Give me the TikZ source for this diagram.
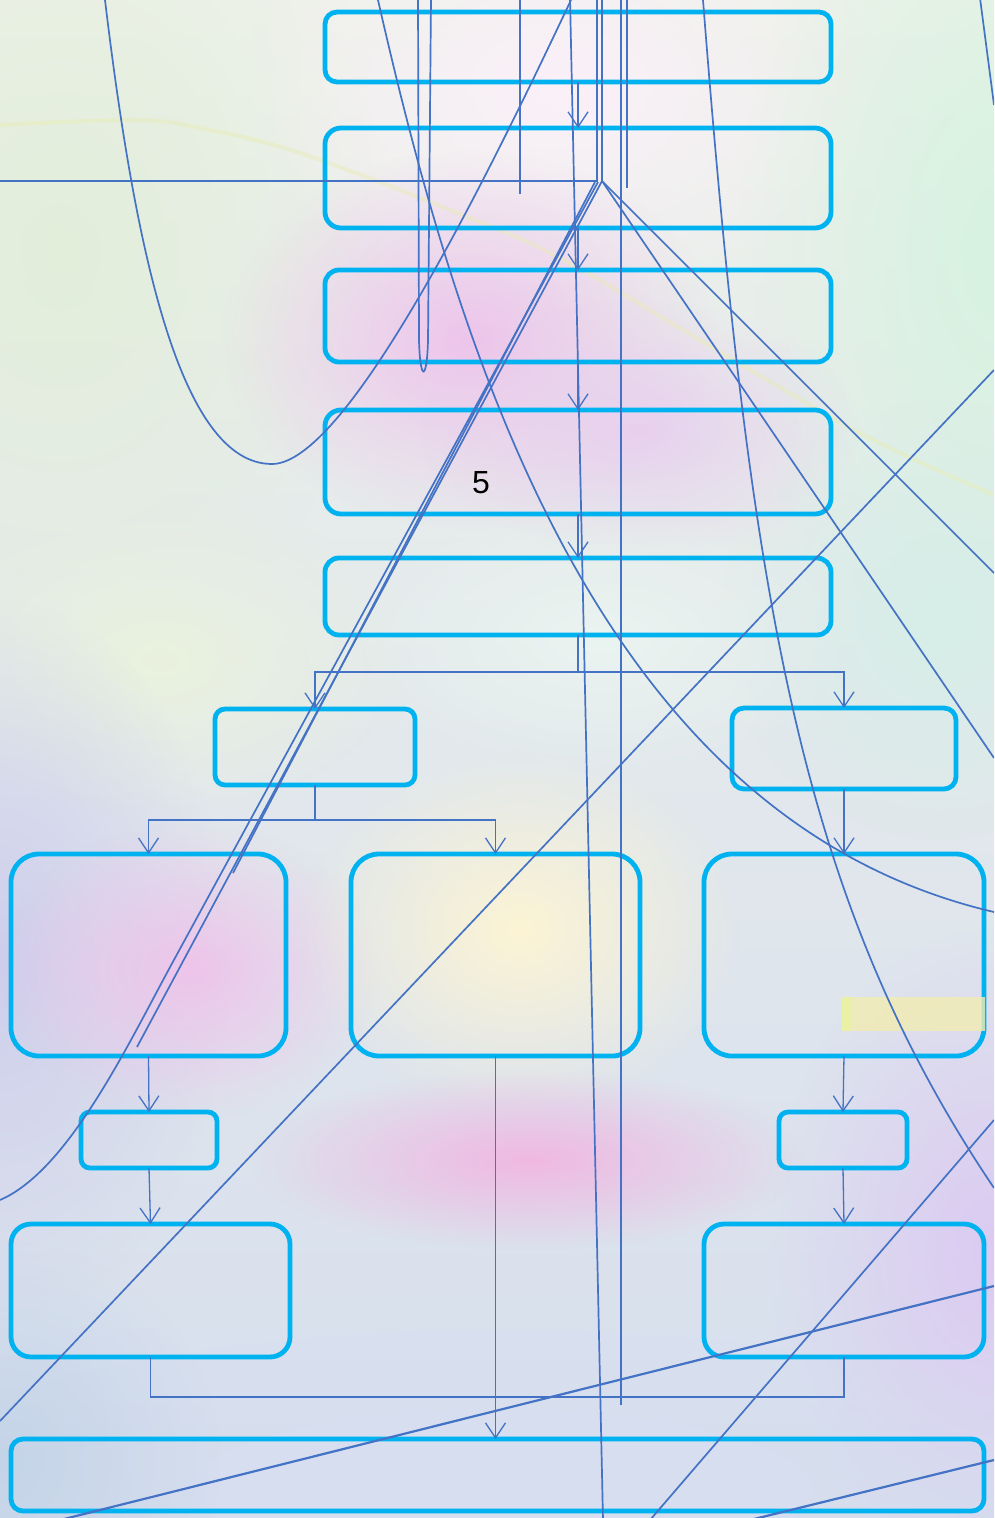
\documentclass[tikz,border=0pt]{standalone}
\usepackage{fontspec}
\newfontfamily\lsans{Liberation Sans}
\usetikzlibrary{arrows.meta,fadings}
\definecolor{boxc}{RGB}{0,178,240}
\definecolor{linec}{RGB}{68,114,196}
\definecolor{bgtop}{RGB}{238,242,234}
\definecolor{bgmid}{RGB}{236,240,240}
\definecolor{bgbot}{RGB}{214,222,238}
\definecolor{g1}{RGB}{226,238,218}
\definecolor{g2}{RGB}{251,240,249}
\definecolor{g3}{RGB}{214,243,224}
\definecolor{g4}{RGB}{238,196,236}
\definecolor{g5}{RGB}{232,208,238}
\definecolor{g6}{RGB}{234,242,222}
\definecolor{g7}{RGB}{234,244,240}
\definecolor{g8}{RGB}{206,206,236}
\definecolor{g9}{RGB}{238,196,234}
\definecolor{g10}{RGB}{252,244,212}
\definecolor{g11}{RGB}{240,184,226}
\definecolor{g12}{RGB}{214,238,232}
\definecolor{g13}{RGB}{220,202,242}
\definecolor{g14}{RGB}{214,222,240}
\definecolor{g15}{RGB}{196,212,232}
\definecolor{wave}{RGB}{232,236,180}
\definecolor{hl}{RGB}{242,236,178}
\definecolor{hl2}{RGB}{232,244,150}
\tikzfading[name=softblob, inner color=transparent!0, outer color=transparent!100]
\tikzset{
  box/.style={draw=boxc, line width=4.8pt, inner sep=0pt, outer sep=0pt},
  line/.style={draw=linec, line width=1.3pt},
  conn/.style={line, -{Straight Barb[length=15pt,width=20pt,line width=1.3pt]}},
  stray/.style={draw=linec, line width=1.7pt},
  blob/.style={fill=#1, path fading=softblob}
}
\newcommand{\mybox}[6]{%
  \node[box, rounded corners=#6pt, minimum width={(#4-#2)*1pt}, minimum height={(#5-#3)*1pt}] (#1) at ({(#2+#4)/2},{(#3+#5)/2}) {};}
\begin{document}
\begin{tikzpicture}[x=1pt,y=-1pt]
\useasboundingbox (0,0) rectangle (994,1518);
\begin{scope}
\clip (0,0) rectangle (994,1518);
% background
\shade[top color=bgtop, middle color=bgmid, bottom color=bgbot] (0,0) rectangle (994,1518);
\fill[blob=g1] (60,250) ellipse (320 and 420);
\fill[blob=g2] (560,90) ellipse (320 and 220);
\fill[blob=g3] (1000,250) ellipse (260 and 460);
\fill[blob=g4] (470,340) ellipse (250 and 190);
\fill[blob=g5] (640,430) ellipse (220 and 130);
\fill[blob=g6] (160,660) ellipse (260 and 160);
\fill[blob=g7] (600,640) ellipse (260 and 140);
\fill[blob=g8] (0,960) ellipse (230 and 360);
\fill[blob=g9] (190,970) ellipse (190 and 150);
\fill[blob=g10] (520,930) ellipse (220 and 180);
\fill[blob=g11] (530,1160) ellipse (280 and 90);
\fill[blob=g12] (940,620) ellipse (220 and 220);
\fill[blob=g13] (990,1250) ellipse (220 and 320);
\fill[blob=g14] (500,1490) ellipse (620 and 160);
\fill[blob=g15] (0,1460) ellipse (220 and 220);
\draw[line width=4pt, color=wave, opacity=0.45] plot[smooth, tension=0.6] coordinates {(0,125) (133,120) (200,128) (300,153) (450,210) (560,258) (700,340) (860,433) (994,495)};
\end{scope}
% boxes
\mybox{b1}{325}{12}{831}{82}{12}
\mybox{b2}{325}{128}{831}{228}{16}
\mybox{b3}{325}{270}{831}{362}{14}
\mybox{b4}{325}{410}{831}{514}{16}
\mybox{b5}{325}{558}{831}{635}{14}
\mybox{b6}{215}{709}{415}{785}{10}
\mybox{b7}{732}{708}{956}{789}{12}
\mybox{b8}{11}{854}{286}{1056}{28}
\mybox{b9}{351}{854}{640}{1056}{28}
\mybox{b10}{704}{854}{984}{1056}{28}
\mybox{b11}{81}{1112}{217}{1168}{9}
\mybox{b12}{779}{1112}{907}{1168}{9}
\mybox{b13}{11}{1224}{290}{1357}{20}
\mybox{b14}{704}{1224}{984}{1357}{20}
\mybox{b15}{11}{1439}{984}{1511}{12}
% highlight
\fill[color=hl, opacity=0.8] (842,997) rectangle (985,1031);
\fill[color=hl2, opacity=0.6] (842,997) rectangle (852,1031);
% text
\node[font=\lsans\fontsize{32}{36}\selectfont, inner sep=0pt] (t5) at (481,483) {5};
% connectors
\draw[conn] (b1.south) -- (b2.north);
\draw[conn] (b2.south) -- (b3.north);
\draw[conn] (b3.south) -- (b4.north);
\draw[conn] (b4.south) -- (b5.north);
\coordinate (j1) at (578,672);
\draw[line] (b5.south) -- (j1);
\draw[conn] (j1) -| (b6.north);
\draw[conn] (j1) -| (b7.north);
\coordinate (j2) at (315,820);
\draw[line] (b6.south) -- (j2);
\draw[conn] (j2) -| (b8.north);
\draw[conn] (j2) -| (b9.north);
\draw[conn] (b7.south) -- (b10.north);
\draw[conn] (b8.south) -- (b11.north);
\draw[conn] (b11.south) -- (b13.north);
\draw[conn] (b10.south) -- (b12.north);
\draw[conn] (b12.south) -- (b14.north);
\draw[line] (b13.south) -- ++(0,40) -| (b14.south);
\draw[conn] (b9.south) -- (b9.south |- b15.north);
% stray lines
\begin{scope}
\clip (0,0) rectangle (994,1518);
\coordinate (ap) at (602,181);
\coordinate (ap2) at (597,181);
\coordinate (ub) at (272,464);
\draw[stray] (105,0) .. controls (135,250) and (180,464) .. (ub) .. controls (350,464) and (500,150) .. (571,0);
\draw[stray] (418,-2) -- (419,340) .. controls (420,382) and (427,382) .. (428,340) -- (431,-2);
\draw[stray] (378,0) .. controls (460,360) and (600,820) .. (994,912);
\draw[stray] (703,0) .. controls (750,600) and (800,900) .. (994,1188);
\draw[stray] (520,-2) -- (520,194);
\draw[stray] (570,-2) -- (603,1520);
\draw[stray, line width=2.2pt] (621,-2) -- (621,1405);
\draw[stray] (627,-2) -- (627,188);
\draw[stray] (0,181) -- (ap2) -- (597,-2);
\draw[stray] (602,-2) -- (ap) -- (994,573);
\draw[stray] (ap) -- (994,758);
\draw[stray] (ap) -- (137,1047);
\draw[stray] (595,182) -- (233,873);
\draw[stray] (598,182) -- (175,958) .. controls (131,1038) and (70,1170) .. (0,1200);
\draw[stray] (994,370) -- (0,1421);
\draw[stray] (994,1120) -- (650,1520);
\draw[stray, line width=2.2pt] (994,1286) -- (60,1520);
\draw[stray, line width=2.2pt] (994,1460) -- (750,1520);
\draw[stray] (980,-2) -- (994,105);
\end{scope}
\end{tikzpicture}
\end{document}
